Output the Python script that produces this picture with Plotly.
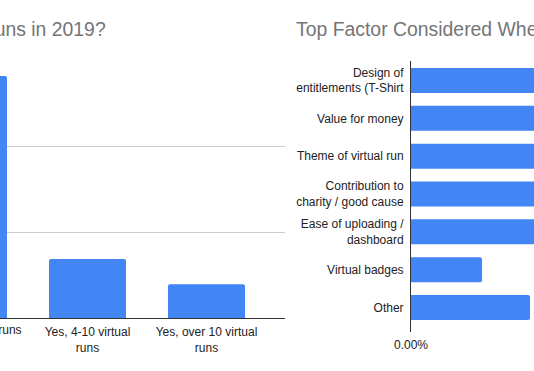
import plotly.graph_objects as go

# ---- Left chart data (virtual runs in 2019) ----
runs_categories = ["Yes, 1-3 virtual runs", "Yes, 4-10 virtual<br>runs", "Yes, over 10 virtual<br>runs"]
runs_share = [56.5, 13.8, 7.9]
runs_title = "Have you participated in any virtual runs in 2019?"

# ---- Right chart data (top factor) ----
factor_labels = [
    "Design of<br>entitlements (T-Shirt",
    "Value for money",
    "Theme of virtual run",
    "Contribution to<br>charity / good cause",
    "Ease of uploading /<br>dashboard",
    "Virtual badges",
    "Other",
]
factor_share = [0.21, 0.18, 0.16, 0.13, 0.13, 0.071, 0.119]
factor_title = "Top Factor Considered When Signing Up for a Virtual Run"

W, H = 534, 371
FONT = "Arial, Liberation Sans, sans-serif"
BLUE = "#4285f4"
TITLE_GREY = "#757575"
LABEL = "#222222"
TITLE_SIZE = 19.4

# left axis geometry (pixels)
L_right = 285
L_top, L_bottom = 61, 318
band = 119.0
r0 = 0.2647
r1 = r0 + L_right / band

# right axis geometry
R_left = 411
R_top, R_bottom = 61, 332
R_range = [0, 0.123]

fig = go.Figure()
fig.add_trace(go.Bar(
    x=runs_categories, y=runs_share, marker=dict(color=BLUE, cornerradius=2),
    width=0.647, xaxis="x", yaxis="y", hoverinfo="skip",
))
fig.add_trace(go.Bar(
    x=factor_share, y=factor_labels, orientation="h",
    marker=dict(color=BLUE, cornerradius=2), width=0.66,
    xaxis="x2", yaxis="y2", hoverinfo="skip",
))

fig.update_layout(
    template="none",
    width=W, height=H, margin=dict(l=0, r=0, t=0, b=0, pad=0),
    paper_bgcolor="white", plot_bgcolor="white", showlegend=False,
    font=dict(family=FONT, size=12, color=LABEL),
    xaxis=dict(
        domain=[0, L_right / W], type="category", categoryorder="array",
        categoryarray=runs_categories, range=[r0, r1], automargin=False,
        showline=True, linecolor="#333333", linewidth=1, showgrid=False,
        ticks="", ticklabelstandoff=3, tickfont=dict(size=12, color=LABEL),
        anchor="y",
    ),
    yaxis=dict(
        domain=[(H - L_bottom) / H, (H - L_top) / H], range=[0, 60], dtick=20,
        showgrid=True, gridcolor="#cccccc", gridwidth=1, zeroline=False,
        showticklabels=False, anchor="x", automargin=False, ticks="",
    ),
    xaxis2=dict(
        domain=[R_left / W, 1], range=R_range, tickvals=[0], tickformat=".2%",
        showgrid=False, zeroline=False, showline=False, ticks="",
        ticklabelstandoff=4, anchor="y2", tickfont=dict(size=12, color=LABEL),
        automargin=False,
    ),
    yaxis2=dict(
        domain=[(H - R_bottom) / H, (H - R_top) / H], type="category",
        categoryorder="array", categoryarray=factor_labels,
        range=[len(factor_labels) - 1 + 0.648, -0.515],
        showline=True, linecolor="#333333", linewidth=1, showgrid=False,
        zeroline=False, ticks="", ticklabelstandoff=4, anchor="x2",
        tickfont=dict(size=12, color=LABEL), automargin=False,
    ),
)

# first (partly hidden) category label of left chart, placed at its band centre
first_center_px = (0 - r0) * band
fig.add_annotation(
    text=runs_categories[0], xref="paper", yref="paper",
    x=first_center_px / W, xanchor="center",
    y=(H - L_bottom - 3) / H, yanchor="top", showarrow=False,
    font=dict(family=FONT, size=12, color=LABEL),
)

# titles
fig.add_annotation(
    text=runs_title, xref="paper", yref="paper", x=108 / W, xanchor="right",
    y=1 - 29 / H, yanchor="middle", showarrow=False,
    font=dict(family=FONT, size=TITLE_SIZE, color=TITLE_GREY),
)
fig.add_annotation(
    text=factor_title, xref="paper", yref="paper", x=294 / W, xanchor="left",
    y=1 - 29 / H, yanchor="middle", showarrow=False,
    font=dict(family=FONT, size=TITLE_SIZE, color=TITLE_GREY),
)

fig.write_html(
    "out.html",
    config={"displayModeBar": False},
    post_script="document.body.style.margin='0';document.body.style.overflow='hidden';",
)
